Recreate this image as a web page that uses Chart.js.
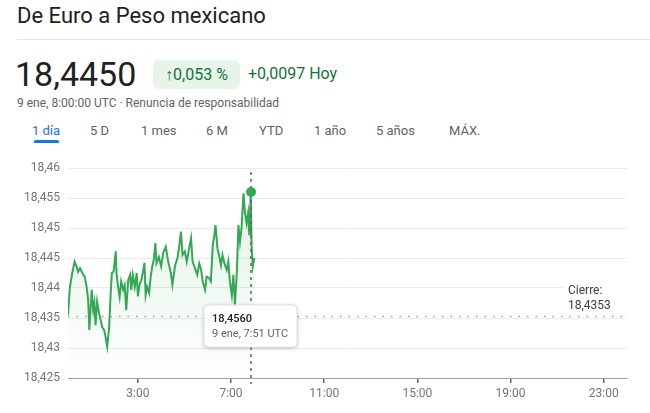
<!DOCTYPE html>
<html>
<head>
<meta charset="utf-8">
<script src="https://cdn.jsdelivr.net/npm/chart.js@4.4.1/dist/chart.umd.min.js"></script>
<style>
  body { margin:0; width:650px; height:413px; background:#fff; font-family:Roboto, Arial, sans-serif; position:relative; overflow:hidden; }
  .abs { position:absolute; white-space:nowrap; }
  #title { left:17px; top:3px; font-size:22px; color:#202124; }
  #rule { left:17px; top:39px; width:633px; height:1px; background:#e3e3e3; }
  #price { left:15px; top:54px; font-size:34px; color:#202124; }
  #badge { left:153px; top:60px; width:87px; height:29px; background:#e6f4ea; border-radius:6px; color:#137333; font-size:16px; line-height:29px; text-align:center; }
  #change { left:248px; top:64px; font-size:16px; color:#137333; }
  #sub { left:17px; top:96px; font-size:12px; color:#5f6368; }
  .tab { top:123px; font-size:13px; color:#5f6368; }
  #tab0 { color:#1a73e8; }
  #uline { left:34px; top:140px; width:25px; height:3px; background:#1a73e8; border-radius:2px 2px 0 0; }
  #wrap { position:absolute; left:0; top:150px; width:650px; height:263px; }
</style>
</head>
<body>
<div class="abs" id="title">De Euro a Peso mexicano</div>
<div class="abs" id="rule"></div>
<div class="abs" id="price">18,4450</div>
<div class="abs" id="badge">↑0,053 %</div>
<div class="abs" id="change">+0,0097 Hoy</div>
<div class="abs" id="sub">9 ene, 8:00:00 UTC · Renuncia de responsabilidad</div>
<div class="abs tab" id="tab0" style="left:32px">1 día</div>
<div class="abs tab" style="left:90px">5 D</div>
<div class="abs tab" style="left:141px">1 mes</div>
<div class="abs tab" style="left:206px">6 M</div>
<div class="abs tab" style="left:259px">YTD</div>
<div class="abs tab" style="left:314px">1 año</div>
<div class="abs tab" style="left:376px">5 años</div>
<div class="abs tab" style="left:449px">MÁX.</div>
<div class="abs" id="uline"></div>
<div id="wrap"><canvas id="chart"></canvas></div>

<script>
// ------------------------------
// Data (minutes since 0:00 UTC, EUR/MXN)
// ------------------------------

const minutes = [
  0, 5, 11, 17, 22, 26, 31, 37, 43, 48, 52, 55, 61, 65, 68, 71, 75, 80, 84, 88,
  93, 97, 101, 106, 110, 113, 117, 120, 123, 125, 129, 133, 137, 142, 146, 150,
  155, 160, 163, 167, 172, 177, 180, 185, 189, 194, 197, 200, 204, 209, 213, 217,
  221, 225, 228, 234, 240, 245, 252, 258, 265, 269, 276, 282, 287, 291, 295, 301,
  306, 312, 317, 321, 327, 333, 338, 343, 347, 353, 357, 363, 368, 373, 377, 380,
  385, 389, 394, 398, 403, 409, 413, 417, 422, 426, 430, 435, 439, 443, 447, 452,
  456, 460, 464, 467, 471, 473, 476, 480
];

const rates = [
  18.4355, 18.4402, 18.4425, 18.4444, 18.4436, 18.4427, 18.4433, 18.4425, 18.4419, 18.4402,
  18.4380, 18.4330, 18.4397, 18.4363, 18.4375, 18.4338, 18.4377, 18.4358, 18.4347, 18.4335,
  18.4330, 18.4318, 18.4302, 18.4335, 18.4392, 18.4425, 18.4427, 18.4442, 18.4461, 18.4425,
  18.4402, 18.4385, 18.4411, 18.4397, 18.4405, 18.4363, 18.4413, 18.4422, 18.4397, 18.4422,
  18.4402, 18.4425, 18.4386, 18.4408, 18.4413, 18.4430, 18.4442, 18.4388, 18.4402, 18.4392,
  18.4419, 18.4436, 18.4447, 18.4475, 18.4442, 18.4452, 18.4436, 18.4458, 18.4469, 18.4444,
  18.4425, 18.4405, 18.4438, 18.4450, 18.4472, 18.4494, 18.4455, 18.4461, 18.4444, 18.4466,
  18.4483, 18.4444, 18.4433, 18.4422, 18.4441, 18.4430, 18.4411, 18.4397, 18.4419, 18.4417,
  18.4411, 18.4472, 18.4488, 18.4505, 18.4466, 18.4455, 18.4438, 18.4455, 18.4441, 18.4430,
  18.4444, 18.4411, 18.4388, 18.4422, 18.4372, 18.4427, 18.4505, 18.4477, 18.4500, 18.4558,
  18.4525, 18.4508, 18.4525, 18.4488, 18.4560, 18.4469, 18.4436, 18.4450
];

const closeValue = 18.4353;
const hoverMinute = 471;          // 7:51 UTC
const hoverLabel = "9 ene, 7:51 UTC";

const yTicks = [18.425, 18.43, 18.435, 18.44, 18.445, 18.45, 18.455, 18.46];
const xTicks = [180, 420, 660, 900, 1140, 1380];
const xLabels = ["3:00", "7:00", "11:00", "15:00", "19:00", "23:00"];

const fmt = v => String(Number(v.toFixed(4))).replace(".", ",");

// ------------------------------
// Plugins
// ------------------------------

const overlay = {
  id: "overlay",
  beforeDatasetsDraw(chart) {
    const { ctx, chartArea: a, scales: { y } } = chart;
    // close line
    const cy = Math.round(y.getPixelForValue(closeValue)) + 0.5;
    ctx.save();
    ctx.strokeStyle = "#9aa0a6";
    ctx.lineWidth = 1.5;
    ctx.setLineDash([1.5, 7]);
    ctx.beginPath();
    ctx.moveTo(a.left, cy);
    ctx.lineTo(a.right, cy);
    ctx.stroke();
    ctx.restore();
  },
  afterDatasetsDraw(chart) {
    const { ctx, chartArea: a, scales: { x, y } } = chart;
    const i = minutes.indexOf(hoverMinute);
    const px = Math.round(x.getPixelForValue(hoverMinute));
    const py = y.getPixelForValue(rates[i]);
    ctx.save();
    // vertical hover line
    ctx.strokeStyle = "#5f6368";
    ctx.lineWidth = 1.5;
    ctx.setLineDash([3, 4]);
    ctx.beginPath();
    ctx.moveTo(px, a.top + 4);
    ctx.lineTo(px, a.bottom + 6);
    ctx.stroke();
    ctx.setLineDash([]);
    // marker
    ctx.fillStyle = "#34a853";
    ctx.beginPath();
    ctx.arc(px, py, 5, 0, Math.PI * 2);
    ctx.fill();

    // close label
    ctx.font = "12px Roboto, Arial, sans-serif";
    ctx.textBaseline = "alphabetic";
    const cy = y.getPixelForValue(closeValue);
    ctx.fillStyle = "#fff";
    ctx.fillRect(a.right - 62, cy - 34, 62, 30);
    ctx.fillStyle = "#3c4043";
    ctx.fillText("Cierre:", a.right - 59, cy - 22);
    ctx.fillText(fmt(closeValue), a.right - 59, cy - 7);

    // tooltip box
    const bw = 93, bh = 42, bx = px - 47, by = a.top + 137;
    ctx.shadowColor = "rgba(0,0,0,0.25)";
    ctx.shadowBlur = 4;
    ctx.shadowOffsetY = 1;
    ctx.fillStyle = "#fff";
    ctx.beginPath();
    ctx.roundRect(bx, by, bw, bh, 4);
    ctx.fill();
    ctx.shadowColor = "transparent";
    ctx.strokeStyle = "#e0e0e0";
    ctx.lineWidth = 1;
    ctx.stroke();
    ctx.font = "500 11px Roboto, Arial, sans-serif";
    ctx.fillStyle = "#202124";
    ctx.fillText(rates[i].toFixed(4).replace(".", ","), bx + 8, by + 17);
    ctx.font = "11px Roboto, Arial, sans-serif";
    ctx.fillStyle = "#5f6368";
    ctx.fillText(hoverLabel, bx + 8, by + 32);
    ctx.restore();
  }
};

// ------------------------------
// Chart
// ------------------------------

const ctx = document.getElementById("chart");

new Chart(ctx, {
  type: "line",
  data: {
    datasets: [{
      data: minutes.map((m, i) => ({ x: m, y: rates[i] })),
      borderColor: "#34a853",
      borderWidth: 2,
      pointRadius: 0,
      tension: 0,
      fill: "start",
      backgroundColor: c => {
        const a = c.chart.chartArea;
        if (!a) return "rgba(52,168,83,0.08)";
        const g = c.chart.ctx.createLinearGradient(0, a.top, 0, a.bottom);
        g.addColorStop(0, "rgba(52,168,83,0.16)");
        g.addColorStop(1, "rgba(52,168,83,0.0)");
        return g;
      }
    }]
  },
  options: {
    responsive: true,
    maintainAspectRatio: false,
    animation: false,
    layout: { padding: { top: 18, right: 23, left: 0, bottom: 0 } },
    plugins: { legend: { display: false }, tooltip: { enabled: false } },
    scales: {
      x: {
        type: "linear",
        min: 0,
        max: 1440,
        afterBuildTicks: s => { s.ticks = xTicks.map(v => ({ value: v })); },
        afterFit: s => { s.height = 35; },
        ticks: {
          color: "#70757a",
          font: { family: "Roboto", size: 12 },
          padding: 4,
          maxRotation: 0,
          callback: (v) => xLabels[xTicks.indexOf(v)]
        },
        grid: { drawOnChartArea: false, drawTicks: true, tickLength: 5, color: "#5f6368", lineWidth: 1.5 },
        border: { color: "#9aa0a6", width: 1 }
      },
      y: {
        min: 18.425,
        max: 18.46,
        afterBuildTicks: s => { s.ticks = yTicks.map(v => ({ value: v })); },
        afterFit: s => { s.width = 68; },
        ticks: {
          color: "#70757a",
          font: { family: "Roboto", size: 12 },
          padding: 8,
          callback: v => fmt(v)
        },
        grid: { color: "#ebebeb", drawTicks: false },
        border: { display: false }
      }
    }
  },
  plugins: [overlay]
});
</script>
</body>
</html>
